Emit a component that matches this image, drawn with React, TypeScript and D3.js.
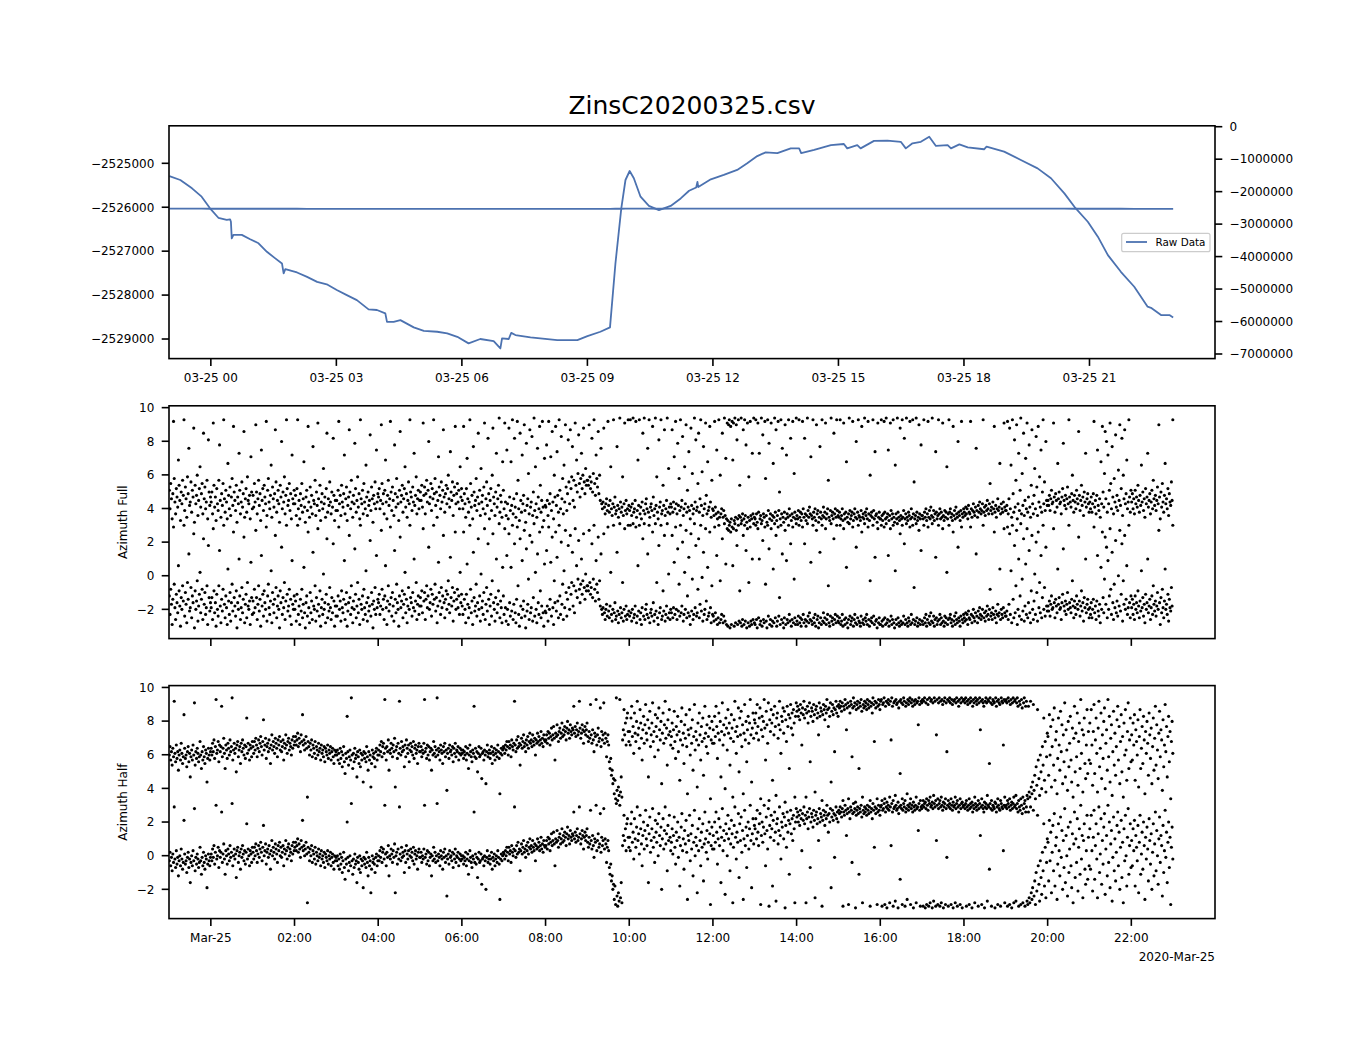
import React from "react";
import * as d3 from "d3";

// ---------- top panel: raw data (hours from 2020-03-25 00:00) ----------
const lineHours = [
  -0.99, -0.73, -0.45, -0.22, -0.02, 0.18, 0.38, 0.46, 0.48, 0.5, 0.54, 0.74, 0.94, 1.14, 1.34, 1.54, 1.7, 1.74, 1.78,
  2.06, 2.3, 2.54, 2.77, 3.01, 3.25, 3.49, 3.77, 3.97, 4.17, 4.21, 4.37, 4.53, 4.85, 5.09, 5.41, 5.65, 5.89, 6.16,
  6.44, 6.76, 6.92, 6.96, 7.12, 7.18, 7.28, 7.64, 8.28, 8.76, 9.0, 9.31, 9.54, 9.67, 9.81, 9.91, 10.01, 10.11, 10.27,
  10.47, 10.71, 10.99, 11.23, 11.43, 11.6, 11.63, 11.65, 11.95, 12.26, 12.58, 12.82, 13.06, 13.26, 13.54, 13.86,
  14.06, 14.11, 14.42, 14.82, 15.13, 15.21, 15.45, 15.53, 15.85, 16.17, 16.49, 16.61, 16.77, 16.97, 17.17, 17.33,
  17.61, 17.69, 17.89, 18.09, 18.48, 18.54, 18.96, 19.36, 19.76, 20.08, 20.4, 20.64, 20.96, 21.2, 21.44, 21.75,
  22.07, 22.39, 22.47, 22.71, 22.91, 23.0,
];
const lineValues = [
  -2525290, -2525380, -2525570, -2525760, -2526025, -2526240, -2526290, -2526275, -2526330, -2526710, -2526630,
  -2526630, -2526730, -2526820, -2527015, -2527165, -2527280, -2527505, -2527410, -2527485, -2527585, -2527700,
  -2527755, -2527885, -2528000, -2528115, -2528325, -2528340, -2528415, -2528610, -2528610, -2528570, -2528735,
  -2528815, -2528835, -2528870, -2528950, -2529100, -2529000, -2529050, -2529215, -2528985, -2529000, -2528860,
  -2528910, -2528965, -2529025, -2529025, -2528935, -2528835, -2528735, -2527280, -2526025, -2525380, -2525175,
  -2525340, -2525760, -2525970, -2526065, -2525970, -2525800, -2525625, -2525550, -2525425, -2525540, -2525365,
  -2525265, -2525150, -2525000, -2524835, -2524750, -2524770, -2524660, -2524660, -2524770, -2524695, -2524585,
  -2524560, -2524660, -2524585, -2524660, -2524490, -2524485, -2524510, -2524660, -2524545, -2524510, -2524395,
  -2524605, -2524585, -2524660, -2524570, -2524635, -2524680, -2524620, -2524735, -2524925, -2525115, -2525340,
  -2525685, -2525990, -2526330, -2526670, -2527090, -2527470, -2527810, -2528265, -2528290, -2528455, -2528455,
  -2528510,
];

// ---------- azimuth samples (radians, one array per hour, 23:00 -> 23:00) ----------
const azimuthFull: number[][] = [
  [-1.2,-2.3,-0.8,-1.7,-2.9,-1.4,2.9,-0.5,-1.9,-2.6,-1.1,-1.6,-2.2,0.6,-0.9,-1.8,-3.0,-1.3,-2.0,-0.6,-1.5,3.0,-2.4,-1.0,-1.7,-2.8,-0.4,-1.4,1.3,-2.1,-1.9,-0.7,-2.5,-1.2,-1.6,2.5,-3.1,-0.9,-2.0,-1.5,-0.3,-2.7,-1.8,-1.1,0.2,-2.2,-1.4,-0.8,-2.6,2.2,-1.7,-1.0,-2.3,-1.9,-0.6,-2.9,1.8,-1.3,-2.1,-1.6],
  [-1.9,-1.3,-2.6,2.8,-0.9,-2.2,-1.6,-3.0,-1.1,-2.0,-2.4,-0.6,1.5,-1.8,-2.8,-1.4,-2.1,-0.8,3.0,-1.7,-2.5,-1.2,-1.9,-2.9,0.4,-1.5,-2.3,-1.0,-2.7,-1.6,-0.5,-2.1,2.6,-1.3,-1.8,-2.4,-0.9,-3.1,-1.6,-2.0,1.0,-1.2,-2.6,-1.9,-0.7,-2.2,-1.4,2.3,-2.8,-1.7,-1.1,-2.5,-0.4,-1.8,-2.0,-1.5,-2.9,0.8,-1.3,-2.3],
  [-1.5,-2.2,-0.8,-1.9,2.7,-1.3,-2.6,-1.7,-0.6,-2.1,-1.4,-3.0,1.2,-1.8,-1.1,-2.4,-0.9,-1.6,-2.0,2.9,-2.7,-1.2,-0.5,-1.9,-2.3,-1.5,0.3,-2.8,-1.0,-1.7,-2.2,-1.4,2.4,-0.7,-2.5,-1.8,-1.2,-2.0,-3.1,-0.9,-1.6,1.7,-2.3,-1.3,-1.9,-0.4,-2.6,-1.5,3.0,-1.1,-2.1,-1.8,-0.8,-2.4,-1.4,-2.9,0.9,-1.7,-2.0,-1.2],
  [-2.0,-1.5,-2.7,-1.1,3.0,-2.3,-1.8,-2.9,-1.4,-2.1,-0.8,-2.5,-1.7,0.5,-2.2,-3.1,-1.6,-1.2,-2.4,2.6,-1.9,-2.8,-1.0,-2.2,-1.5,-2.6,1.4,-1.8,-2.0,-0.6,-2.7,-1.3,-2.1,2.8,-1.7,-2.4,-0.9,-3.0,-1.9,-1.4,-2.3,0.1,-2.0,-1.6,-2.8,-1.1,2.2,-2.5,-1.7,-2.1,-0.7,-1.9,-2.6,-1.3,-2.2,1.9,-1.5,-3.0,-1.8,-2.4],
  [-1.8,-2.4,-1.2,2.9,-2.0,-1.5,-2.7,-0.9,-1.9,-2.2,-1.4,0.9,-2.6,-1.7,-1.0,-3.0,-2.1,-1.6,2.4,-1.3,-2.3,-0.6,-1.9,-2.8,-1.5,-2.0,1.6,-1.1,-2.5,-1.8,-0.4,-2.2,-1.4,-2.9,3.0,-1.7,-2.0,-1.2,-2.6,-0.8,-1.9,-2.3,0.3,-1.6,-2.7,-1.3,-2.1,-1.8,2.1,-2.4,-1.0,-1.7,-3.1,-1.5,-2.0,-0.7,-2.3,1.2,-1.9,-1.4],
  [-1.6,-1.1,-2.3,-1.8,2.7,-0.8,-2.0,-1.4,-2.6,-1.2,0.6,-1.9,-2.9,-1.5,-0.6,-2.1,-1.7,2.9,-1.3,-2.4,-1.0,-1.8,-2.7,1.5,-1.4,-2.2,-0.5,-1.6,-2.0,-3.0,-1.2,2.3,-1.9,-1.5,-0.9,-2.5,-1.7,-1.1,0.2,-2.2,-1.4,-2.8,-1.8,-0.7,-2.0,3.0,-1.3,-1.6,-2.4,-1.0,-1.9,1.0,-2.1,-1.5,-0.4,-2.6,-1.7,-1.2,-2.3,-1.8],
  [-1.3,-1.8,-0.9,-2.2,2.8,-1.5,-1.0,-2.6,-1.4,-0.6,-1.9,-1.2,1.7,-2.0,-1.6,-0.8,-2.4,-1.1,-1.7,3.0,-1.4,-0.5,-2.1,-1.3,-2.8,-1.8,0.8,-1.0,-1.5,-2.3,-0.7,-1.9,-1.2,2.4,-1.6,-2.5,-1.4,-0.9,-2.0,-1.1,-0.3,-1.7,-2.2,1.1,-1.3,-1.8,-0.7,-2.7,-1.5,-1.0,2.6,-2.0,-1.4,-0.8,-1.9,-1.2,-2.3,0.2,-1.6,-1.1],
  [-1.8,-2.3,2.6,-1.4,-2.0,-2.8,-1.1,0.7,-1.7,-2.5,-1.9,3.0,-0.8,-2.2,-1.5,-2.9,1.4,-1.3,-2.1,-1.8,-0.5,-2.4,-1.6,2.2,-2.0,-1.2,-2.7,0.1,-1.9,-1.5,-2.3,-1.0,2.8,-2.6,-1.7,-0.7,-2.1,1.9,-1.4,-2.9,-1.8,-1.1,-2.4,-0.3,2.5,-1.6,-2.0,-2.7,-1.3,1.0,-2.2,-1.7,-0.9,3.1,-2.5,-1.5,-1.9,-2.8,0.5,-1.2],
  [-2.3,2.8,-1.9,-2.7,1.2,-2.0,-2.9,2.5,-1.6,-2.4,0.5,-2.1,3.0,-2.6,-1.7,1.9,-2.2,-2.8,-1.4,2.9,-0.6,-2.3,-3.0,2.2,-1.8,-2.5,0.9,-2.0,-1.5,2.7,-2.4,-3.1,1.6,-2.1,-1.7,-0.2,-2.6,2.4,-2.2,-1.9,2.0,-2.7,-1.3,3.1,-2.4,0.2,-2.0,-2.8,1.3,-1.6,-2.3,2.6,-0.9,-2.5,-1.8,2.9,-2.2,-3.0,0.7,-2.1],
  [-2.2,1.5,-1.8,-2.7,2.9,-2.0,-1.4,0.8,-2.4,2.3,-1.9,-2.9,-0.3,-1.6,2.6,-2.1,1.1,-1.5,-2.5,3.0,-1.2,-2.3,2.0,-1.7,-0.5,-2.6,0.3,-1.9,2.7,-1.0,-2.4,-1.4,1.8,-0.7,-2.0,2.4,-1.1,-0.4,1.4,-1.8,-0.6,-2.2,2.8,-0.9,0.6,-1.3,-0.2,2.1,-0.8,-1.6,-0.5,1.0,-1.1,-0.3,2.5,-0.7,-1.4,0.1,-0.9,-0.6],
  [-0.6,-0.9,2.7,-0.4,-1.1,-0.7,1.9,-1.3,-0.2,3.0,-0.8,-1.5,0.9,-0.5,-1.0,2.3,-1.4,-0.3,-1.8,1.3,-2.0,-2.3,-1.9,2.5,-2.2,-2.6,-2.0,-1.7,-2.4,2.9,-2.1,-2.5,-1.8,0.2,-2.3,-2.7,-2.0,3.0,-2.2,-1.6,-2.6,-2.4,1.4,-2.1,-2.8,-2.3,3.1,-1.9,-2.5,-2.2,-0.4,-2.7,-2.0,2.8,-2.4,-1.8,-2.6,-2.3,3.0,-2.1],
  [-2.4,3.0,-2.2,-2.7,-2.0,3.1,-2.5,-2.3,-1.8,2.9,-2.8,-2.4,0.6,-2.1,3.0,-2.6,-2.2,-2.9,-1.9,2.2,-2.4,3.1,-2.6,-2.0,-1.7,-2.3,1.3,-2.5,3.0,-2.8,-2.2,-2.0,-2.4,2.6,-1.6,-2.7,-2.3,3.1,-2.1,-0.4,-2.5,-2.9,1.8,-2.2,-1.9,3.0,-2.6,-2.4,-0.9,-2.1,2.4,-2.7,-2.3,-1.8,3.1,-2.5,0.1,-2.2,-2.6,-2.0],
  [-2.2,2.4,-2.5,-1.9,0.8,-2.3,2.9,-2.0,-2.6,1.6,-2.1,-0.5,-2.4,3.0,-2.2,-1.8,2.0,-2.7,-2.3,0.2,-2.0,2.7,-2.5,-1.2,-2.2,1.1,-2.4,-2.9,2.5,-2.1,-0.2,-2.6,-2.3,3.1,-1.9,1.8,-2.4,-2.2,-0.8,2.2,-2.5,-1.7,3.0,-2.1,-0.1,-2.7,1.4,-2.3,-2.0,2.8,-1.5,-2.6,0.5,-2.4,-2.2,2.6,-1.9,-2.8,-0.6,-2.3],
  [-2.4,-2.7,2.9,-2.2,-2.6,1.2,-2.9,-2.5,3.0,-2.8,-0.3,-2.6,-2.3,2.2,-2.8,-2.4,3.1,-2.7,0.7,-2.9,2.8,-3.0,2.7,3.0,-3.1,2.6,-2.9,2.9,0.6,2.8,-3.0,3.1,-2.8,2.7,1.8,-2.9,3.0,-2.7,-0.9,-2.8,3.1,-3.0,-2.6,2.4,-2.9,3.0,-2.7,1.5,-3.1,2.8,-2.8,-0.4,-3.0,2.9,-2.7,-2.9,1.0,-2.6,3.1,-2.8],
  [-2.9,3.0,-2.6,-3.1,2.8,-2.5,1.0,-2.9,-2.7,3.1,-3.0,2.1,-2.6,-2.8,2.9,-0.5,-2.7,-3.1,3.0,-2.4,1.6,-2.9,-2.6,2.8,-3.0,-2.7,0.4,-2.8,3.1,-2.5,2.4,-3.0,-2.7,2.9,-2.4,-1.3,-2.9,3.0,-2.6,1.3,-2.8,-3.1,-2.5,2.7,-2.9,0.9,-2.6,-2.8,3.0,-2.3,-2.7,1.9,-3.0,-2.6,2.9,-2.8,-0.2,-2.5,-2.9,3.1],
  [-2.7,-2.9,-2.4,3.0,-2.8,-2.5,-3.0,-2.6,2.9,-2.3,-2.8,1.9,-2.6,-3.0,-2.7,3.1,-2.4,-2.8,-2.2,-2.6,0.8,-2.7,-2.9,3.0,-2.5,-2.8,-2.3,-3.0,2.7,-2.6,-2.4,-3.1,-2.8,1.4,-2.5,-2.9,3.0,-2.7,-2.2,-2.8,-2.5,2.8,-2.9,-2.6,-2.3,-0.6,-2.8,-3.0,-2.4,3.1,-2.7,-2.5,-2.9,2.2,-2.6,-2.3,-2.8,3.0,-2.4,-2.7],
  [-2.8,-2.5,3.0,-2.9,-2.7,-2.3,-3.0,2.8,-2.6,-2.9,-2.5,0.5,-2.8,-3.1,-2.6,3.1,-2.4,-2.9,-2.7,-2.5,2.9,-3.0,-2.6,-2.3,-2.8,1.7,-2.9,-2.5,3.0,-2.7,-2.8,-3.0,-2.4,2.6,-2.8,-2.6,-2.9,3.1,-2.5,-2.7,-2.3,-2.9,2.9,-2.6,-3.0,-0.3,-2.7,-2.5,-2.8,3.0,-2.4,-2.9,1.1,-2.7,-2.6,-3.1,2.8,-2.8,-2.5,-2.9],
  [-2.9,3.0,-2.7,-3.0,-2.6,2.9,-2.5,-2.9,3.1,-2.8,-2.6,1.2,-3.0,-2.7,2.8,-2.4,-2.9,-2.6,3.0,-2.8,-3.1,0.3,-2.6,-2.9,3.1,-2.5,-2.8,-3.0,2.5,-2.7,-2.9,3.0,-2.8,-2.4,1.9,-2.9,-2.6,3.1,-2.8,-3.0,-2.5,-2.7,2.9,-2.9,-2.3,-2.8,3.0,-2.6,-0.7,-2.9,-2.7,3.1,-2.5,-3.0,-2.8,2.7,-2.6,-2.9,1.5,-2.7],
  [-2.7,-2.9,3.0,-2.5,-2.8,-2.3,-3.0,-2.6,2.9,-2.8,-2.4,-2.9,-2.2,-2.7,3.1,-2.8,-2.4,-3.0,-2.6,1.1,-2.5,-2.9,-2.7,3.0,-2.6,-2.3,-2.9,-2.5,-2.8,2.8,-2.7,-3.0,-2.4,-2.8,-2.5,0.2,-2.9,-2.6,3.0,-2.5,-2.3,-2.8,-2.6,-3.0,2.6,-2.7,-2.4,-2.9,-2.2,-2.6,-2.8,1.7,-2.5,-2.7,-3.0,-2.4,2.9,-2.6,-2.8,-2.3],
  [-2.5,-2.7,-2.2,-2.6,-2.3,-2.9,-2.1,-2.5,-2.6,2.9,-2.3,-2.8,-2.4,-2.0,-2.5,-2.7,-2.2,1.3,-2.4,-2.8,-2.1,-2.5,-1.9,-2.3,-2.6,-2.4,-2.0,3.0,-2.5,-2.2,-2.7,-2.1,-2.4,-1.8,-2.3,-2.6,-2.0,-0.8,-2.4,-2.2,-2.6,-1.9,-2.3,2.6,-2.5,-2.1,-2.8,-2.3,-1.7,-2.4,-2.2,0.4,-2.6,-2.0,-2.3,-2.5,-1.9,2.8,-2.2,-2.4],
  [-2.4,-2.1,2.9,-2.6,-1.7,2.5,-2.3,0.3,-2.8,3.0,-1.4,-2.5,1.8,-2.2,-0.6,2.7,-2.9,-2.0,1.0,-2.4,-1.2,3.1,-2.6,-0.2,-2.1,2.2,-2.7,-1.8,0.7,-2.3,2.8,-2.5,-1.6,1.5,-2.2,-2.8,-0.9,2.4,-2.0,-2.6,-1.5,0.1,-2.3,2.0,-1.0,-2.7,2.6,-1.9,-0.4,-2.2,1.2,-2.5,-1.3,3.0,-2.0,-0.7,-2.4,1.7,-1.8,-2.1],
  [-1.8,-2.1,-1.5,-2.4,-1.7,-1.2,-2.0,-1.9,2.8,-1.6,-2.5,-1.4,-1.8,-2.2,0.4,-1.7,-1.3,-2.0,-1.9,-2.6,-1.6,-1.1,1.6,-1.8,-2.1,-1.5,-2.3,-1.7,-1.0,-2.0,3.0,-1.6,-1.9,-2.2,-1.4,-0.3,-1.8,-2.5,-1.5,-1.9,-2.3,-1.2,-1.7,-2.0,2.3,-1.5,-2.4,-1.8,-0.9,-2.1,-1.6,-2.7,-1.3,-1.9,1.0,-2.2,-1.7,-1.4,-2.0,-2.5],
  [-1.9,-2.3,-1.6,-2.5,-2.0,-1.4,2.9,-2.2,-1.8,-2.6,-1.5,1.2,-2.1,-2.4,-1.7,-2.8,0.5,-2.0,2.6,-1.3,-2.2,-0.2,2.3,-1.7,1.7,-2.5,0.9,-2.0,-1.2,2.8,-0.8,-2.3,1.4,-1.6,-2.6,-0.5,-1.9,2.1,-2.2,-1.5,-2.4,0.0,-1.8,2.7,-2.1,-1.1,1.9,-2.7,-0.3,-1.7,2.4,-2.0,-1.4,0.6,-2.3,-1.9,3.0,-1.6,-2.5,-1.2],
  [-1.9,-1.4,-2.3,-1.7,-2.6,-1.2,-2.0,-1.6,-2.2,-0.9,-1.8,-2.5,-1.5,-2.1,0.3,-1.9,-1.3,-2.4,-1.7,-2.8,-1.1,-2.0,-1.6,1.0,-2.2,-1.8,-1.4,-2.6,-1.9,-1.2,-2.3,-0.6,-1.7,-2.1,-1.5,-2.4,-1.8,-1.0,-2.0,2.7,-1.6,-2.9,-1.3,-2.2,-0.8,-1.9,-2.5,-1.5,0.4,-2.0,-1.7,-2.3,-1.1,-2.7,-1.4,-1.9,-2.1,-0.7,-1.8,3.0],
];

const azimuthHalf: number[][] = [
  [-0.3,0.2,-0.6,-0.1,-0.9,0.1,-0.4,2.9,-0.2,-0.7,0.3,-0.5,-0.1,-1.2,-0.3,0.0,-0.6,0.4,-0.2,-0.8,-0.4,2.1,0.1,-0.5,-0.3,-1.0,-0.1,0.2,-0.7,-0.2,-1.6,-0.4,0.0,-0.6,0.3,-0.3,2.8,-0.9,-0.1,-0.5,0.1,-0.2,-0.7,-0.4,0.5,-0.3,-1.1,-0.1,-0.6,0.2,-0.4,-0.8,0.0,-0.2,-1.9,-0.5,0.1,-0.3,-0.6,-0.1],
  [0.1,-0.3,0.4,-0.1,0.6,-0.5,0.2,3.0,-0.2,0.0,0.5,-0.7,0.3,-0.1,0.2,2.6,-0.4,0.1,0.7,-0.2,-1.1,0.3,0.0,-0.5,0.4,0.1,-0.3,0.6,-0.1,0.2,3.1,-0.6,0.0,0.4,-0.2,0.1,-1.3,0.3,0.5,-0.4,0.0,0.2,-0.8,0.4,-0.1,0.6,0.1,-0.3,0.3,-0.5,0.2,1.9,-0.2,0.4,0.0,-0.6,0.3,0.1,-0.4,0.5],
  [0.2,-0.2,0.5,0.0,0.7,0.3,-0.4,0.1,0.6,-0.1,0.4,0.8,0.2,-0.3,0.5,1.8,0.0,0.3,0.7,-0.5,0.2,0.4,-0.1,0.6,0.1,-0.8,0.3,0.9,0.0,0.5,0.2,-0.2,0.7,0.4,0.1,-0.4,0.6,0.3,0.8,0.0,0.5,-0.1,0.2,0.6,-0.6,0.4,0.1,0.9,0.3,-0.2,0.5,0.7,0.0,0.4,0.2,-0.3,0.6,0.1,0.8,0.3],
  [0.5,0.8,0.3,0.6,1.0,0.2,0.7,0.4,-0.1,0.9,0.5,2.1,0.3,0.6,0.0,0.4,0.8,0.1,-2.8,0.5,0.2,-0.3,0.4,0.0,0.6,-0.4,0.3,0.1,-0.2,0.5,-0.5,0.2,0.0,-0.3,0.4,-0.1,0.1,-0.6,0.3,-0.2,0.0,-0.4,0.2,-0.7,0.1,-0.1,-0.3,0.3,-0.5,0.0,-0.2,0.2,-0.6,-0.1,0.1,-0.4,-0.8,0.0,-0.3,-0.1],
  [-0.3,0.0,-0.6,-0.2,-0.8,0.1,-0.5,-0.1,-1.0,-0.3,0.2,-0.7,-1.4,-0.2,-0.5,2.0,-0.1,-0.9,-0.4,0.0,-0.6,3.1,-0.3,-1.1,-0.2,-0.7,0.1,-0.5,-0.3,-1.6,-0.1,-0.4,-0.8,0.0,-1.0,-0.2,-0.6,-0.3,-1.9,-0.1,-0.5,-0.2,-0.7,0.2,-0.4,-1.2,-0.1,-0.6,-0.3,-2.2,-0.8,0.0,-0.4,-0.2,-0.5,-1.0,-0.1,0.1,-0.6,-0.3],
  [0.0,-0.3,0.3,-0.1,0.5,-0.4,0.2,0.4,-0.2,3.0,0.1,-0.6,0.2,-0.1,0.6,-1.2,0.0,-0.2,0.4,0.1,-0.4,0.3,-0.1,0.7,-2.2,0.0,0.2,-0.5,0.4,-0.2,2.9,0.1,-0.3,0.5,-0.1,0.2,0.0,-1.0,0.3,-0.4,0.6,0.1,-0.2,0.3,-0.7,0.0,0.4,-0.1,0.2,-0.3,0.5,-0.5,0.1,0.3,-0.2,0.0,-0.8,0.2,0.4,-0.1],
  [-0.1,0.2,-0.4,0.0,-0.2,0.4,3.0,-0.1,0.1,-0.5,0.3,-0.3,0.2,-0.6,-0.1,0.1,-1.2,0.0,-0.3,0.5,-0.2,0.2,-0.4,0.0,3.1,-0.3,0.1,-0.1,-0.6,0.3,0.0,-0.2,-0.8,0.2,-0.1,0.4,-0.4,0.0,-2.4,-0.2,0.1,-0.5,0.3,-0.1,0.0,-0.3,0.2,-0.7,0.1,-0.2,0.4,-0.4,0.0,-0.1,0.2,-0.6,-0.2,0.1,-0.3,0.0],
  [-0.2,0.0,-0.5,-0.1,-0.3,0.2,-0.6,-0.2,0.1,-1.1,-0.3,0.3,-0.1,-0.4,-0.7,0.0,-0.2,2.6,-0.4,0.1,-0.5,-0.1,-1.3,-0.2,0.2,-0.4,-0.3,0.1,-1.7,-0.2,-0.1,-0.6,0.0,-0.3,-2.0,-0.1,0.3,-0.4,-0.2,0.0,-0.5,-0.2,0.2,-0.8,-0.1,-0.3,0.1,-0.6,-0.2,0.0,-0.4,0.3,-0.1,-0.5,-2.6,-0.2,0.1,-0.3,0.0,0.2],
  [0.1,-0.2,0.3,0.0,0.5,0.2,-0.3,0.5,0.1,0.3,-0.4,0.6,0.2,0.0,0.4,2.9,0.3,-0.1,0.6,0.1,0.8,0.2,0.4,-0.9,0.3,0.7,0.1,0.5,0.9,0.2,0.4,-0.1,0.6,0.3,0.8,0.1,0.5,1.0,0.4,0.6,0.2,0.9,0.5,0.3,0.7,-0.3,0.6,0.4,1.0,0.5,0.8,0.3,0.6,1.1,0.4,0.7,0.2,0.9,0.6,0.5],
  [0.6,0.9,0.4,1.1,0.7,1.0,0.3,0.8,1.3,0.6,0.9,1.4,0.7,-0.6,1.0,0.8,1.5,0.9,0.5,1.1,1.3,0.7,1.0,1.6,0.8,1.2,0.9,1.4,1.1,0.6,1.3,1.7,1.0,1.2,0.7,1.5,1.1,0.9,1.3,1.2,2.6,1.0,1.4,0.8,1.2,1.6,0.9,1.1,2.9,1.3,0.7,1.0,1.5,1.2,0.4,1.1,1.4,0.9,1.2,1.6],
  [0.8,0.5,1.1,0.7,2.7,0.9,0.4,1.2,0.6,-0.1,1.0,0.8,3.0,0.3,0.9,1.3,0.5,0.7,2.5,0.2,1.1,0.6,0.9,2.8,0.4,1.0,0.7,-0.4,0.5,0.9,0.3,-0.7,-1.1,-0.5,-1.5,-1.2,-2.0,-1.7,-2.6,-1.8,-2.9,3.1,-2.4,-3.0,-2.2,-2.7,3.0,-2.5,-1.6,-2.8,0.6,1.2,2.4,0.9,1.6,0.3,1.9,2.2,1.1,0.5],
  [1.1,0.3,1.9,2.6,0.8,1.4,-0.2,2.2,1.0,0.5,1.7,2.9,0.9,1.3,0.1,2.4,1.6,0.7,-0.6,1.2,2.0,0.4,1.5,2.7,1.0,0.6,1.8,-1.6,1.3,2.3,0.2,0.9,1.6,2.8,0.5,1.1,-0.4,2.1,1.4,0.8,1.9,0.0,2.5,1.2,0.6,1.7,-2.0,1.0,2.2,0.4,1.5,2.9,0.7,1.3,-0.9,1.8,0.9,2.4,1.1,0.3],
  [0.8,1.6,0.1,1.2,2.3,0.5,-0.5,1.4,0.9,2.0,-0.1,1.1,-1.8,0.6,1.7,2.5,0.3,1.0,-0.8,1.5,0.7,2.1,0.2,-2.6,1.2,0.9,2.4,-0.3,1.3,0.4,1.8,-1.2,0.8,2.7,0.0,1.1,0.6,-2.2,1.6,0.3,2.2,0.9,-0.6,1.4,0.5,1.9,-1.5,0.7,2.6,1.0,0.2,1.5,-0.2,0.8,2.0,1.3,-2.9,0.6,1.7,0.4],
  [1.2,0.4,2.0,0.8,2.6,1.4,-0.5,1.0,2.2,0.6,1.7,-1.6,1.1,2.8,0.3,1.5,0.9,-2.3,1.9,1.3,0.0,2.4,1.0,1.6,-0.9,0.7,2.1,1.3,-2.8,0.5,1.8,2.9,1.1,-0.2,1.4,0.8,2.5,-1.3,1.9,0.9,2.3,0.2,1.5,-2.6,1.0,2.7,0.6,1.7,-0.7,1.2,2.0,0.4,1.6,3.0,0.9,-1.9,1.3,2.2,0.7,1.8],
  [1.6,2.2,1.0,2.7,1.4,0.6,1.9,2.5,-2.9,1.2,2.0,0.8,1.7,3.0,1.3,-0.6,2.3,1.5,0.4,2.8,-3.0,1.8,1.1,2.4,1.6,-1.8,2.1,0.9,2.6,1.4,-2.7,1.9,2.2,0.7,1.5,2.9,1.2,-0.2,2.0,1.7,2.5,1.0,2.3,-3.1,1.8,0.5,2.6,1.4,2.1,-1.1,1.9,2.7,1.3,2.2,0.9,2.4,1.6,-2.8,2.0,2.8],
  [2.3,2.6,2.0,2.4,1.8,2.7,2.2,0.3,2.5,2.1,2.9,1.9,2.4,-2.8,2.2,2.6,1.6,2.3,2.8,-0.7,2.0,2.5,2.3,1.7,2.7,2.1,-2.5,2.4,2.6,1.9,2.2,0.9,2.8,2.0,2.5,2.3,-3.0,2.1,2.7,2.4,1.8,2.6,2.2,3.0,2.4,1.4,2.5,2.0,2.8,-1.9,2.3,2.7,2.1,2.5,-0.1,2.4,2.9,2.2,2.6,2.0],
  [2.7,2.5,2.9,2.6,2.3,2.8,-3.0,2.6,2.4,3.0,2.7,1.2,2.5,2.8,-2.9,2.6,2.2,2.9,2.7,-0.4,2.5,3.1,2.6,2.8,-3.1,2.4,2.7,2.9,2.5,-1.1,2.8,2.6,3.0,2.3,-2.8,2.7,2.5,2.9,2.6,2.8,2.4,3.0,2.7,2.5,2.9,-3.0,2.6,2.8,2.2,3.1,2.7,0.5,2.9,2.5,2.8,-2.9,2.6,3.0,2.7,2.4],
  [2.9,3.0,-3.0,2.7,2.8,3.1,-2.9,2.6,2.9,-3.1,2.8,3.0,2.7,-2.8,2.9,0.6,3.1,2.6,-3.0,2.8,2.9,-2.7,3.0,2.7,2.8,-3.1,2.5,2.9,-1.4,3.0,2.8,-2.9,2.7,3.1,2.9,-3.0,2.6,2.8,-2.6,3.0,2.7,2.9,3.1,-2.9,2.8,3.0,2.6,-3.1,2.9,2.7,3.0,-2.8,2.8,2.9,1.5,3.1,2.7,-3.0,2.9,2.8],
  [3.0,-3.0,2.9,3.1,-3.1,2.8,-2.9,3.0,2.7,-3.0,3.1,-2.8,2.9,3.0,-3.1,2.8,-2.7,3.1,2.9,-3.0,0.9,3.0,-2.9,2.8,3.1,-3.0,2.9,-2.8,3.0,2.7,-3.1,2.9,3.1,-2.9,2.8,-0.1,3.0,-3.0,2.9,3.1,2.8,-2.9,3.0,2.7,-3.1,2.9,3.0,-2.8,2.8,3.1,-3.0,2.9,2.6,3.0,-2.9,2.8,3.1,-3.1,2.9,3.0],
  [3.0,2.8,3.1,-3.0,2.9,2.7,3.0,-2.9,2.8,3.1,2.9,-3.1,2.6,3.0,2.8,-2.8,3.1,2.9,2.7,3.0,-3.0,2.8,3.1,1.2,2.9,-2.9,3.0,2.8,2.6,-3.1,2.9,3.1,2.8,-2.7,3.0,2.9,-0.8,3.1,2.8,-3.0,2.7,3.0,2.9,2.8,-3.1,3.1,2.6,2.9,-2.9,3.0,2.8,2.7,-3.0,3.1,2.9,2.8,0.3,3.0,-2.8,2.9],
  [3.0,2.8,-3.0,3.1,2.9,-2.9,2.7,3.0,-3.1,2.8,3.1,-2.8,2.9,3.0,-2.7,2.8,3.1,2.6,-3.0,2.9,2.7,-2.9,3.0,2.5,-2.8,2.8,3.1,-3.0,2.6,2.9,-2.7,-2.9,2.6,-2.5,-2.8,2.9,-2.2,-2.6,-1.9,2.7,-2.4,-1.5,-2.9,-1.0,-2.1,2.4,-0.6,-1.7,-2.7,-0.3,-1.3,-2.3,0.2,-0.9,1.9,-1.8,0.5,-2.5,-0.4,1.0],
  [0.8,-1.5,2.1,-0.3,1.4,-2.2,0.2,1.8,-0.9,2.5,-1.8,0.6,1.1,-2.6,-0.5,1.9,0.3,-1.2,2.3,-0.1,1.5,-2.0,0.9,-0.7,2.8,-1.6,1.2,0.0,-2.4,1.7,-1.0,0.4,2.0,-0.6,-1.9,1.3,-2.8,0.7,2.6,-1.3,1.0,-0.4,2.2,-2.1,0.5,1.6,-1.1,3.0,-0.2,1.2,-2.5,0.9,1.9,-0.8,-1.7,0.3,2.4,-1.4,1.1,-0.6],
  [1.6,-0.8,2.4,0.3,-2.1,1.1,2.7,-1.4,0.6,1.9,-0.2,-2.5,1.3,2.9,-1.0,0.1,2.2,-1.7,0.9,-0.5,1.7,2.5,-2.3,0.4,1.2,-1.2,3.0,-0.4,2.0,-1.9,0.7,1.5,-2.7,-0.1,2.3,-0.9,1.0,-1.5,0.2,1.8,2.6,-0.6,1.4,-2.0,0.5,2.1,-1.3,0.8,-2.8,1.6,-0.3,2.4,0.0,-1.8,1.1,2.8,-1.1,0.6,1.9,-0.7],
  [0.9,-0.6,1.6,0.3,2.1,-1.8,1.2,0.5,-0.3,1.8,-2.2,0.8,2.4,-1.1,0.1,1.4,-0.8,2.0,0.6,-2.6,1.1,-0.2,1.7,0.4,-1.5,2.2,0.9,-0.5,1.3,-2.0,0.2,1.9,-1.2,0.7,2.6,-0.9,1.5,0.0,-1.7,1.0,2.3,-0.4,1.2,0.6,-2.4,1.8,-1.0,0.3,2.7,-0.1,1.4,-1.6,0.8,2.0,-0.7,1.1,-2.9,0.5,1.7,-0.2],
];

// ---------- ticks ----------
const leftTicks = [-2525000, -2526000, -2527000, -2528000, -2529000];
const rightTicks = [0, -1000000, -2000000, -3000000, -4000000, -5000000, -6000000, -7000000];
const topTickHours = [0, 3, 6, 9, 12, 15, 18, 21];
const topTickLabels = ["03-25 00", "03-25 03", "03-25 06", "03-25 09", "03-25 12", "03-25 15", "03-25 18", "03-25 21"];
const bottomTickHours = [0, 2, 4, 6, 8, 10, 12, 14, 16, 18, 20, 22];
const bottomTickLabels = ["Mar-25", "02:00", "04:00", "06:00", "08:00", "10:00", "12:00", "14:00", "16:00", "18:00", "20:00", "22:00"];
const azTicks = [10, 8, 6, 4, 2, 0, -2];

const TITLE = "ZinsC20200325.csv";
const LINE_COLOR = "#4C72B0";
const FONT = "DejaVu Sans, Verdana, sans-serif";

// ---------- layout ----------
const X0 = 169;
const X1 = 1215;
const TOP = [125.8, 358.6];
const MID = [405.8, 638.6];
const BOT = [685.6, 918.6];
const TICK = 7.3;
const SPINE = 1.6;
const FS = 12;
const DOT_R = 1.55;

const x = d3.scaleLinear().domain([-1, 24]).range([X0, X1]);
const yLeft = d3.scaleLinear().domain([-2529446, -2524146]).range([TOP[1], TOP[0]]);
const yRight = d3.scaleLinear().domain([-7142000, 28000]).range([TOP[1], TOP[0]]);
const yMid = d3.scaleLinear().domain([-3.74, 10.11]).range([MID[1], MID[0]]);
const yBot = d3.scaleLinear().domain([-3.74, 10.11]).range([BOT[1], BOT[0]]);

const fmt = (v: number) => (v < 0 ? "\u2212" + Math.abs(v) : String(v));

function expand(hourly: number[][]) {
  const pts: { t: number; v: number }[] = [];
  hourly.forEach((arr, h) => {
    const n = arr.length;
    arr.forEach((a, i) => {
      const t = h - 1 + (i + 0.5) / n;
      pts.push({ t, v: a });
      pts.push({ t, v: a + 2 * Math.PI });
    });
  });
  return pts;
}

function Frame({ y0, y1 }: { y0: number; y1: number }) {
  return <rect x={X0} y={y0} width={X1 - X0} height={y1 - y0} fill="none" stroke="#000" strokeWidth={SPINE} />;
}

function LeftAxis({ ticks, scale }: { ticks: number[]; scale: (v: number) => number }) {
  return (
    <g>
      {ticks.map((t) => (
        <g key={t}>
          <line x1={X0} x2={X0 - TICK} y1={scale(t)} y2={scale(t)} stroke="#000" strokeWidth={SPINE} />
          <text x={X0 - TICK - 7.3} y={scale(t) + 4.3} textAnchor="end" fontSize={FS} fontFamily={FONT}>
            {fmt(t)}
          </text>
        </g>
      ))}
    </g>
  );
}

function BottomTicks({ y, hours, labels }: { y: number; hours: number[]; labels?: string[] }) {
  return (
    <g>
      {hours.map((h, i) => (
        <g key={h}>
          <line x1={x(h)} x2={x(h)} y1={y} y2={y + TICK} stroke="#000" strokeWidth={SPINE} />
          {labels && (
            <text x={x(h)} y={y + 23.6} textAnchor="middle" fontSize={FS} fontFamily={FONT}>
              {labels[i]}
            </text>
          )}
        </g>
      ))}
    </g>
  );
}

export default function App() {
  const lineLeft = d3
    .line<number>()
    .x((_, i) => x(lineHours[i]))
    .y((d) => yLeft(d))(lineValues) as string;
  const lineRight = d3
    .line<number>()
    .x((_, i) => x(lineHours[i]))
    .y((d) => yRight(d))(lineValues) as string;

  const fullPts = expand(azimuthFull);
  const halfPts = expand(azimuthHalf);

  return (
    <svg
      width={1350}
      height={1050}
      style={{ position: "absolute", left: 0, top: 0, background: "#fff" }}
      fontFamily={FONT}
    >
      <rect x={0} y={0} width={1350} height={1050} fill="#fff" />
      <defs>
        <clipPath id="clipTop">
          <rect x={X0} y={TOP[0]} width={X1 - X0} height={TOP[1] - TOP[0]} />
        </clipPath>
        <clipPath id="clipMid">
          <rect x={X0} y={MID[0]} width={X1 - X0} height={MID[1] - MID[0]} />
        </clipPath>
        <clipPath id="clipBot">
          <rect x={X0} y={BOT[0]} width={X1 - X0} height={BOT[1] - BOT[0]} />
        </clipPath>
      </defs>

      <text x={(X0 + X1) / 2} y={113.5} textAnchor="middle" fontSize={25} fontFamily={FONT}>
        {TITLE}
      </text>

      {/* ---------- top panel ---------- */}
      <g clipPath="url(#clipTop)">
        <path d={lineLeft} fill="none" stroke={LINE_COLOR} strokeWidth={1.8} strokeLinejoin="round" />
        <path d={lineRight} fill="none" stroke={LINE_COLOR} strokeWidth={1.8} strokeLinejoin="round" />
      </g>
      <Frame y0={TOP[0]} y1={TOP[1]} />
      <LeftAxis ticks={leftTicks} scale={yLeft} />
      {rightTicks.map((t) => (
        <g key={t}>
          <line x1={X1} x2={X1 + TICK} y1={yRight(t)} y2={yRight(t)} stroke="#000" strokeWidth={SPINE} />
          <text x={X1 + TICK + 7.3} y={yRight(t) + 4.3} textAnchor="start" fontSize={FS} fontFamily={FONT}>
            {fmt(t)}
          </text>
        </g>
      ))}
      <BottomTicks y={TOP[1]} hours={topTickHours} labels={topTickLabels} />

      {/* legend */}
      <g>
        <rect x={1121.7} y={233.3} width={88.3} height={18.4} rx={2} fill="#fff" fillOpacity={0.8} stroke="#cccccc" strokeWidth={1.2} />
        <line x1={1126} x2={1147} y1={242} y2={242} stroke={LINE_COLOR} strokeWidth={1.8} />
        <text x={1155.5} y={245.8} fontSize={10.4} fontFamily={FONT}>
          Raw Data
        </text>
      </g>

      {/* ---------- middle panel ---------- */}
      <g clipPath="url(#clipMid)">
        {fullPts.map((p, i) => (
          <circle key={i} cx={x(p.t)} cy={yMid(p.v)} r={DOT_R} fill="#000" />
        ))}
      </g>
      <Frame y0={MID[0]} y1={MID[1]} />
      <LeftAxis ticks={azTicks} scale={yMid} />
      <BottomTicks y={MID[1]} hours={bottomTickHours} />
      <text
        transform={`translate(127,${(MID[0] + MID[1]) / 2}) rotate(-90)`}
        textAnchor="middle"
        fontSize={FS}
        fontFamily={FONT}
      >
        Azimuth Full
      </text>

      {/* ---------- bottom panel ---------- */}
      <g clipPath="url(#clipBot)">
        {halfPts.map((p, i) => (
          <circle key={i} cx={x(p.t)} cy={yBot(p.v)} r={DOT_R} fill="#000" />
        ))}
      </g>
      <Frame y0={BOT[0]} y1={BOT[1]} />
      <LeftAxis ticks={azTicks} scale={yBot} />
      <BottomTicks y={BOT[1]} hours={bottomTickHours} labels={bottomTickLabels} />
      <text
        transform={`translate(127,${(BOT[0] + BOT[1]) / 2}) rotate(-90)`}
        textAnchor="middle"
        fontSize={FS}
        fontFamily={FONT}
      >
        Azimuth Half
      </text>
      <text x={X1} y={960.5} textAnchor="end" fontSize={FS} fontFamily={FONT}>
        2020-Mar-25
      </text>
    </svg>
  );
}
